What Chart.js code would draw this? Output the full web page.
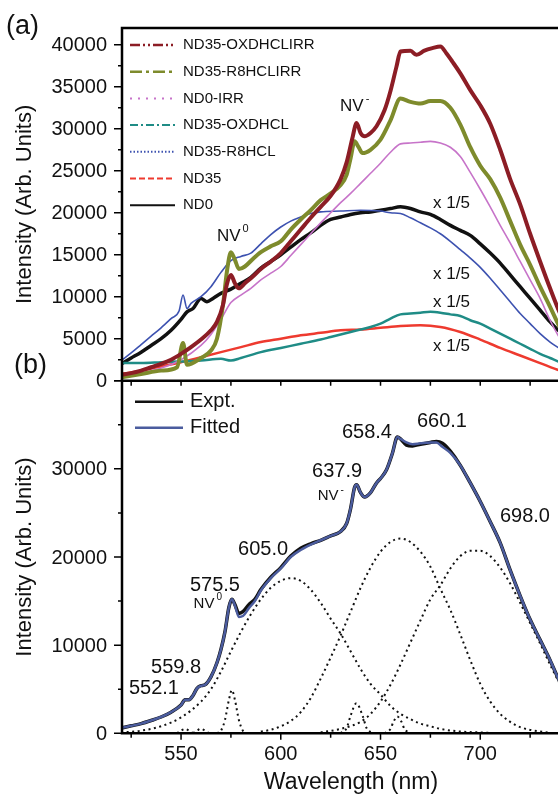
<!DOCTYPE html>
<html>
<head>
<meta charset="utf-8">
<script src="https://cdn.jsdelivr.net/npm/chart.js@4"></script>
<style>
  html, body { margin: 0; padding: 0; background: #fff; overflow: hidden; }
  #wrap { position: relative; width: 558px; height: 795px; overflow: hidden; }
  canvas { position: absolute; left: 0; top: 0; }
</style>
</head>
<body>
<div id="wrap">
  <canvas id="chartA" width="590" height="420"></canvas>
  <canvas id="chartB" width="590" height="795"></canvas>
</div>
<script>
// ---- panel (a): PL spectra, wavelength (nm) / intensity ----
const oxIrrWl = [520,525,530,535,540,545,550,555,560,565,568,571,573,575,577,579,582,586,590,595,600,605,610,615,620,625,630,633,636,638,640,642,645,648,652,655,658,660,665,668,672,676,680,683,686,690,695,700,705,710,715,720,725,730,735,740,745,750];
const oxIrr   = [700,900,1200,1600,2000,2500,3200,4000,4900,6000,7000,9000,11500,12600,11600,11000,11600,12400,13300,14200,15200,16600,18000,19400,20700,22000,24000,26000,29000,30700,29500,29100,29500,30300,32200,34500,37400,39200,39300,38800,39300,39600,39800,39000,38000,36600,34600,32800,30600,27500,24000,21000,17500,14200,11000,8000,5500,3600];

const r8IrrWl = [520,530,540,548,551,553,560,565,568,571,573,575,577,579,582,586,590,595,600,605,610,615,620,625,630,633,635,637,639,641,645,650,655,660,665,670,675,680,685,690,695,700,705,710,715,720,725,730,735,740,745,750];
const r8Irr   = [400,800,1200,1600,4500,1900,2700,3600,5000,9000,13000,15300,14400,13300,13600,14500,15300,16000,16600,18000,19200,20300,21500,22300,23300,24500,26500,28500,27800,27100,27500,28700,31000,33600,33200,33000,33300,33300,32500,30500,27800,25600,24000,21800,19000,16200,13800,11200,8800,6300,4300,3000];

const nd0IrrWl = [520,530,540,550,560,565,570,575,580,585,590,595,600,605,610,615,620,625,630,635,640,645,650,655,660,665,670,675,680,685,690,695,700,705,710,715,720,725,730,735,740,745,750];
const nd0Irr   = [500,900,1500,2500,4200,5500,7300,9300,10200,11000,12000,12800,13600,14900,16200,17500,18800,20000,21200,22300,23500,24700,25900,27200,28200,28300,28400,28500,28300,27800,26700,24800,22800,20700,18500,16400,14200,12000,9800,7200,5000,3400,2200];

const oxWl = [520,530,540,550,560,570,575,580,590,600,610,620,625,630,635,640,645,650,655,660,665,670,675,680,685,690,695,700,705,710,715,720,725,730,735,740,745,750];
const ox   = [2100,2100,2200,2300,2400,2600,2400,2700,3400,3900,4400,4900,5200,5500,5800,6100,6400,6800,7400,7900,8000,8100,8200,8100,7900,7700,7200,6800,6200,5600,5000,4400,3800,3200,2700,2200,1800,1500];

const r8Wl = [520,525,530,535,540,545,549,551,553,555,560,565,570,575,580,585,590,595,600,605,610,615,620,630,640,650,655,660,665,670,675,680,685,690,695,700,705,710,715,720,725,730,735,740,745,750];
const r8   = [2400,3300,4300,5300,6300,7400,8300,10200,8600,9200,10000,11200,12900,14300,14800,15200,16300,17400,18300,19000,19500,19900,20100,20200,20300,20200,20000,19900,19400,18800,18200,17500,16600,15600,14600,13500,12200,10800,9400,8000,6800,5600,4600,3800,3000,2400];

const nd35Wl = [520,530,540,550,560,570,580,590,600,610,620,630,640,650,660,670,680,690,700,710,720,730,740,750];
const nd35   = [800,1200,1700,2200,2800,3400,4000,4600,5000,5400,5700,6000,6100,6300,6500,6600,6400,5800,4900,3900,3000,2100,1200,700];

const nd0Wl = [520,525,530,535,540,545,550,553,556,560,563,566,570,575,580,585,590,595,600,605,610,615,620,625,630,635,640,645,650,655,660,665,670,675,680,685,690,695,700,705,710,715,720,725,730,735,740,745,750];
const nd0   = [2000,2700,3400,4200,5000,6000,7300,8200,8600,9800,9400,9800,10400,10900,11600,12300,13400,14200,15000,15900,16800,17600,18500,19200,19500,19800,20000,20100,20300,20500,20700,20500,20100,19800,19200,18500,17900,17300,16300,15200,14000,12600,11200,9800,8400,7000,5800,4800,3800];

const namesA = ['ND35-OXDHCLIRR','ND35-R8HCLIRR','ND0-IRR','ND35-OXDHCL','ND35-R8HCL','ND35','ND0'];

// ---- panel (b): fit of ND35-R8HCLIRR ----
const fitWl = [520,525,530,535,540,545,550,552,554,556,558,560,562,565,568,570,572,574,575.5,577,579,581,584,587,590,595,600,605,610,615,620,625,630,633,635,637,638,640,642,645,648,650,653,656,658.4,660,663,666,670,675,678,681,685,690,695,700,705,710,715,720,725,730,735,740,745,750];
const fitted = [600,850,1100,1450,1850,2400,3200,3800,3800,4300,5100,5400,5500,6400,8000,9500,11500,14300,15200,14500,13200,13300,14200,15000,16200,17600,18700,20000,20800,21400,21900,22400,22900,23800,25500,27900,28200,27300,26800,27300,28400,28900,29900,31800,33600,33400,33000,32800,32900,33000,33000,32500,31800,30400,28400,26300,24000,21600,18500,15600,12900,10600,8300,5800,4100,2900];
const expt   = [600,850,1100,1450,1850,2400,3200,3800,3800,4300,5100,5400,5500,6400,8000,9500,11500,14300,15200,14600,13600,13800,14600,15200,16300,17700,18800,20100,21000,21500,21900,22400,22900,23800,25500,27900,28200,27300,26800,27300,28400,28900,29900,31800,33600,33400,32700,32600,32800,33000,33100,32900,32000,30400,28400,26300,24000,21600,18500,15600,12900,10600,8300,5800,4100,2900];

const c552Wl = [548,550,552.1,554,556];
const c552   = [0,300,500,300,0];
const c560Wl = [556,558,559.8,562,564];
const c560   = [0,300,500,300,0];
const c575Wl = [568,570,572,574,575.5,577,579,581,583];
const c575   = [0,300,1500,3800,4900,3800,1500,300,0];
const c605Wl = [520,530,540,550,560,565,570,575,580,585,590,595,600,605,610,615,620,625,630,635,640,645,650,655,660,665,670,675,680,690,700,710,720];
const c605   = [100,300,800,1800,3600,5000,7000,9300,11500,13500,15200,16500,17300,17600,17300,16300,14800,13000,11300,9300,7300,5600,4400,3100,2200,1600,1100,800,500,200,100,0,0];
const c638Wl = [630,633,635,637.9,641,643,646];
const c638   = [0,600,2000,3400,2000,600,0];
const c658Wl = [652,655,656.5,658.4,660.5,662,665];
const c658   = [0,500,1300,1900,1300,500,0];
const c660Wl = [590,595,600,605,610,615,620,625,630,635,640,645,650,655,660,665,670,675,680,685,690,695,700,705,710,715,720,730,740,750];
const c660   = [200,400,800,1400,2400,4000,6200,8600,11100,13800,16500,18800,20600,21700,22100,21700,20600,18900,16400,14000,11200,8300,5600,3600,2200,1300,700,200,0,0];
const c698Wl = [620,630,640,645,650,655,660,665,670,675,680,685,690,695,700,705,710,715,720,725,730,735,740,745,750];
const c698   = [100,500,1300,2200,3600,5500,7800,10300,12800,15200,16800,18700,20100,20700,20700,20100,18800,17000,14800,12500,10200,7800,5600,4000,2800];

const peakLabels = ['552.1','559.8','575.5','605.0','637.9','658.4','660.1','698.0'];
const peakLabelPos = [[536.4,5140],[547.5,7410],[567,16800],[591.1,20800],[628.2,29700],[643.2,34100],[680.8,35400],[722.4,24600]];

// ---- styling ----
const FONT = '"Liberation Sans", Arial, sans-serif';
Chart.defaults.font.family = FONT;
Chart.defaults.color = '#111';

const colors = {
  darkRed: '#8c1d25', olive: '#7e8b2c', pink: '#c774c9', teal: '#1f8c86',
  blue: '#3d52b0', red: '#ee3a2f', black: '#111', fit: '#4b5c9e'
};
const legendDash = [[10,3,2,3,2,3],[12,4,3,4],[2,6],[8,3,2,3],[1.5,2],[6,3],[]];

const pts = (xs, ys) => xs.map((x, i) => ({x, y: ys[i]}));

function line(label, xs, ys, color, width, extra) {
  return Object.assign({
    label, data: pts(xs, ys), borderColor: color, borderWidth: width,
    pointRadius: 0, fill: false, cubicInterpolationMode: 'monotone'
  }, extra || {});
}

function text(ctx, str, x, y, size, align) {
  ctx.font = size + 'px ' + FONT;
  ctx.textAlign = align || 'left';
  ctx.textBaseline = 'middle';
  ctx.fillText(str, x, y);
}

// NV label with a small raised superscript
function nvLabel(ctx, x, y, size, sup, center) {
  ctx.font = size + 'px ' + FONT;
  const w = ctx.measureText('NV').width;
  const sw = size * 0.4;
  const x0 = center ? x - (w + sw) / 2 : x;
  text(ctx, 'NV', x0, y, size);
  text(ctx, sup, x0 + w + 2, y - size * 0.42, Math.round(size * 0.65));
}

// left axis: major/minor ticks and the numbers
function leftAxis(ctx, a, y, step, major, top, maxLabel) {
  ctx.strokeStyle = '#000';
  ctx.lineWidth = 1.5;
  ctx.beginPath();
  for (let v = 0; v <= top; v += step) {
    const py = y.getPixelForValue(v);
    const isMajor = v % major === 0;
    ctx.moveTo(a.left - (isMajor ? 8 : 4), py); ctx.lineTo(a.left, py);
    if (isMajor && v <= maxLabel) text(ctx, String(v), a.left - 15, py + 1, 20, 'right');
  }
  ctx.stroke();
}

function yScale(max) {
  return {
    min: 0, max,
    ticks: {display: false},
    grid: {display: false, drawTicks: false},
    border: {display: false},
    title: {display: true, text: 'Intensity (Arb. Units)', font: {size: 22}, color: '#111', padding: {top: 12, bottom: 0}},
    afterFit: s => { s.width = 122; }
  };
}

const baseOpts = {
  responsive: false, animation: false, events: [],
  plugins: {legend: {display: false}, tooltip: {enabled: false}}
};

// ---- chart (a) ----
const frameA = {
  id: 'frameA',
  afterDraw(chart) {
    const {ctx, chartArea: a, scales: {x, y}} = chart;
    ctx.save();
    ctx.fillStyle = '#111';
    ctx.strokeStyle = '#000';
    ctx.lineWidth = 2.5;
    ctx.beginPath();
    ctx.moveTo(a.left, a.bottom); ctx.lineTo(a.left, a.top); ctx.lineTo(a.right, a.top);
    ctx.stroke();
    leftAxis(ctx, a, y, 2500, 5000, 40000, 40000);

    // legend
    const sets = chart.data.datasets;
    namesA.forEach((name, i) => {
      const ly = a.top + 17 + i * 26.7;
      ctx.beginPath();
      ctx.strokeStyle = sets[i].borderColor;
      ctx.lineWidth = i < 2 ? 2.5 : 2;
      ctx.setLineDash(legendDash[i]);
      ctx.moveTo(a.left + 8, ly); ctx.lineTo(a.left + 53, ly);
      ctx.stroke();
      ctx.setLineDash([]);
      text(ctx, name, a.left + 61, ly, 15);
    });

    // annotations
    nvLabel(ctx, x.getPixelForValue(629.7), y.getPixelForValue(32700), 17, '-');
    nvLabel(ctx, x.getPixelForValue(568), y.getPixelForValue(17200), 17, '0');
    [21160, 12700, 9380, 4130].forEach(v => {
      text(ctx, 'x 1/5', x.getPixelForValue(676.3), y.getPixelForValue(v), 17);
    });
    text(ctx, '(a)', 6, 27, 27);
    text(ctx, '(b)', 14, 366, 27);
    ctx.restore();
  }
};

new Chart(document.getElementById('chartA'), {
  type: 'line',
  data: {
    datasets: [
      line(namesA[0], oxIrrWl, oxIrr, colors.darkRed, 4),
      line(namesA[1], r8IrrWl, r8Irr, colors.olive, 4),
      line(namesA[2], nd0IrrWl, nd0Irr, colors.pink, 1.6),
      line(namesA[3], oxWl, ox, colors.teal, 2.5),
      line(namesA[4], r8Wl, r8, colors.blue, 1.6),
      line(namesA[5], nd35Wl, nd35, colors.red, 2.5),
      line(namesA[6], nd0Wl, nd0, colors.black, 3.5)
    ]
  },
  options: Object.assign({}, baseOpts, {
    layout: {padding: {top: 28, bottom: 39.3, left: 0, right: 10}},
    scales: {
      x: {type: 'linear', min: 520.4, max: 750, display: false},
      y: yScale(42000)
    }
  }),
  plugins: [frameA]
});

// ---- chart (b) ----
const frameB = {
  id: 'frameB',
  afterDraw(chart) {
    const {ctx, chartArea: a, scales: {x, y}} = chart;
    ctx.save();
    ctx.fillStyle = '#111';
    ctx.strokeStyle = '#000';
    ctx.lineWidth = 2.5;
    ctx.beginPath();
    ctx.moveTo(a.right, a.top); ctx.lineTo(a.left, a.top);
    ctx.lineTo(a.left, a.bottom); ctx.lineTo(a.right, a.bottom);
    ctx.stroke();
    leftAxis(ctx, a, y, 5000, 10000, 40000, 30000);
    ctx.lineWidth = 1.5;
    ctx.beginPath();
    for (let v = 525; v <= 750; v += 25) {
      const px = x.getPixelForValue(v);
      const len = v % 50 === 0 ? 6.5 : 4.5;
      ctx.moveTo(px, a.bottom); ctx.lineTo(px, a.bottom + len);
      ctx.moveTo(px, a.top); ctx.lineTo(px, a.top + 5);
    }
    ctx.stroke();

    // legend
    const items = [['Expt.', colors.black, 2.5], ['Fitted', colors.fit, 2.5]];
    items.forEach(([name, col, w], i) => {
      const ly = a.top + 21 + i * 26;
      ctx.beginPath();
      ctx.strokeStyle = col; ctx.lineWidth = w;
      ctx.moveTo(a.left + 13, ly); ctx.lineTo(a.left + 61, ly);
      ctx.stroke();
      text(ctx, name, a.left + 68, ly, 20);
    });

    // peak labels
    peakLabels.forEach((lab, i) => {
      const [wl, v] = peakLabelPos[i];
      text(ctx, lab, x.getPixelForValue(wl), y.getPixelForValue(v), 20, 'center');
    });
    nvLabel(ctx, x.getPixelForValue(563), y.getPixelForValue(14700), 15, '0', true);
    nvLabel(ctx, x.getPixelForValue(625.2), y.getPixelForValue(26900), 15, '-', true);
    ctx.restore();
  }
};

const dotted = {borderDash: [2, 3.5], order: 2};

new Chart(document.getElementById('chartB'), {
  type: 'line',
  data: {
    datasets: [
      line('Expt.', fitWl, expt, colors.black, 3.5, {order: 1}),
      line('Fitted', fitWl, fitted, colors.fit, 2.5, {order: 0}),
      line('552.1', c552Wl, c552, colors.black, 2, dotted),
      line('559.8', c560Wl, c560, colors.black, 2, dotted),
      line('575.5', c575Wl, c575, colors.black, 2, dotted),
      line('605.0', c605Wl, c605, colors.black, 2, dotted),
      line('637.9', c638Wl, c638, colors.black, 2, dotted),
      line('658.4', c658Wl, c658, colors.black, 2, dotted),
      line('660.1', c660Wl, c660, colors.black, 2, dotted),
      line('698.0', c698Wl, c698, colors.black, 2, dotted)
    ]
  },
  options: Object.assign({}, baseOpts, {
    layout: {padding: {top: 380.7, bottom: 0, left: 0, right: 10}},
    scales: {
      x: {
        type: 'linear', min: 520.4, max: 750,
        ticks: {
          stepSize: 25, includeBounds: false, autoSkip: false, maxRotation: 0, padding: 9,
          font: {size: 20},
          callback: v => (v % 50 === 0 && v < 750) ? String(v) : ''
        },
        grid: {display: false, drawTicks: false},
        border: {display: false},
        title: {display: true, text: 'Wavelength (nm)', font: {size: 23, lineHeight: 1.05}, color: '#111', padding: 0},
        afterFit: s => { s.height = 61.7; }
      },
      y: yScale(40000)
    }
  }),
  plugins: [frameB]
});
</script>
</body>
</html>
